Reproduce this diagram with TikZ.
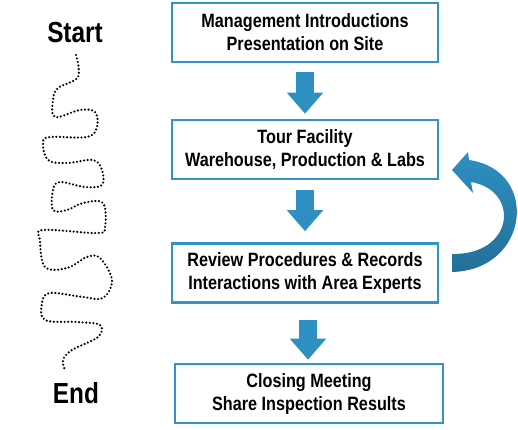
\documentclass[tikz,border=0pt]{standalone}
\usepackage{fontspec}
\setmainfont{Liberation Sans}
\newfontfamily\narrowfont{Liberation Sans}[FakeStretch=0.84]
\usetikzlibrary{arrows.meta}
\definecolor{boxblue}{HTML}{3393C4}
\definecolor{arrowblue}{HTML}{2E90C0}
\definecolor{loopdark}{HTML}{236F97}
\tikzset{
  stepbox/.style={draw=boxblue, line width=2.6pt, fill=white, minimum width=266pt,
    minimum height=59pt, inner sep=0pt, align=center,
    font=\narrowfont\bfseries\fontsize{19.3}{23}\selectfont},
  blockarrow/.style={draw=arrowblue, line width=18pt, -{Triangle[width=35pt,length=21pt]}},
  endlabel/.style={font=\narrowfont\bfseries\fontsize{29}{30}\selectfont},
  trail/.style={line width=2.4pt, line cap=round, dash pattern=on 0pt off 3.6pt}
}
\begin{document}
\begin{tikzpicture}[x=1pt,y=-1pt]
  \useasboundingbox (0,0) rectangle (518,429);
  % the four steps
  \node[stepbox] (intro) at (305,32.5) {Management Introductions\\Presentation on Site};
  \node[stepbox] (tour) at (305,149.5) {Tour Facility\\Warehouse, Production \& Labs};
  \node[stepbox] (review) at (305,273) {Review Procedures \& Records\\Interactions with Area Experts};
  \node[stepbox, minimum width=268pt] (closing) at (309,393.5) {Closing Meeting\\Share Inspection Results};
  \draw[blockarrow, shorten <=9pt, shorten >=5pt] (intro.south) -- (tour.north);
  \draw[blockarrow, shorten <=10pt, shorten >=11pt] (tour.south) -- (review.north);
  \draw[blockarrow, shorten <=16pt, shorten >=3pt] ([xshift=3pt]review.south) -- ([xshift=-1pt]closing.north);
  % loop back from review to tour
  \shade[top color=arrowblue, bottom color=loopdark]
    (452,272) .. controls (530,270) and (540,170) .. (469,160)
    -- (468,152) -- (452,170) -- (473,193) -- (471,182)
    .. controls (520,190) and (515,255) .. (452,254) -- cycle;
  % start and end of the trail
  \node[endlabel] (start) at (75,33) {Start};
  \node[endlabel] (finish) at (76,393) {End};
  \draw[trail] plot[smooth, tension=0.6] coordinates {
    (76,55) (78,77) (58,88) (53,100) (55,117) (80,110) (95,112) (97,127)
    (87,137) (50,137) (43,143) (48,160) (67,163) (93,160) (102,170) (102,185)
    (85,187) (60,182) (53,190) (53,210) (67,210) (83,203) (103,203) (105,227)
    (97,233) (43,230) (40,240) (45,267) (67,268) (87,257) (100,258) (112,280)
    (103,298) (83,297) (50,293) (42,303) (45,320) (77,322) (100,325) (98,337)
    (72,350) (63,360) (65,370)};
\end{tikzpicture}
\end{document}
